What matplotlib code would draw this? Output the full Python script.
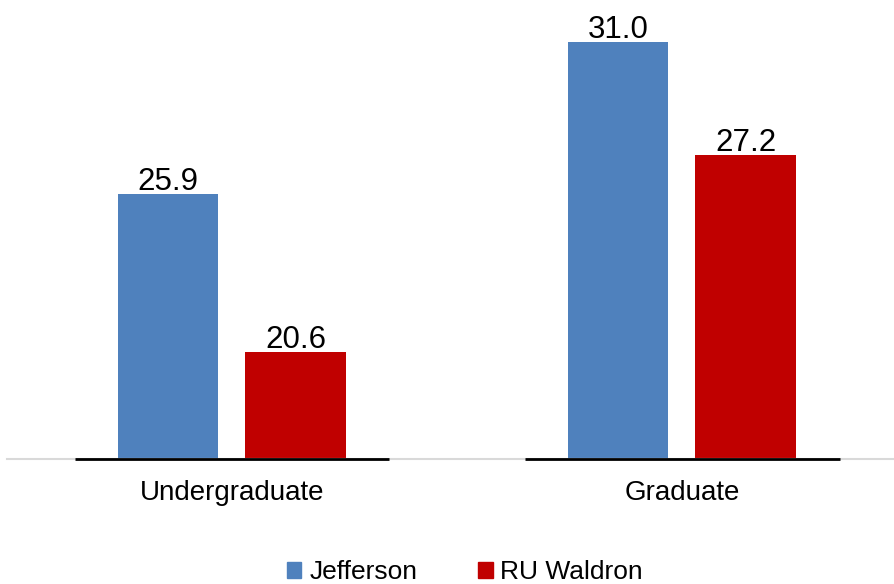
import matplotlib.pyplot as plt
from matplotlib.patches import Patch

plt.rcParams['font.family'] = ['Liberation Sans', 'DejaVu Sans']

# data
categories = ["Undergraduate", "Graduate"]
series_names = ["Jefferson", "RU Waldron"]
jefferson = [25.9, 31.0]
waldron = [20.6, 27.2]
colors = ["#4F81BD", "#C00000"]

fig = plt.figure(figsize=(8.95, 5.84), dpi=100)
ax = fig.add_axes([7 / 895, 0.214, 900 / 895, 0.786])

x = list(range(len(categories)))
bar_w = 0.224
offset = 0.142

for vals, sign, col in [(jefferson, -1, colors[0]), (waldron, 1, colors[1])]:
    pos = [xi + sign * offset for xi in x]
    ax.bar(pos, [v - 17 for v in vals], bottom=17, width=bar_w, color=col, zorder=2)
    for p, v in zip(pos, vals):
        ax.annotate(f"{v:.1f}", (p, v), xytext=(0, 4), textcoords="offset pixels",
                    ha="center", va="baseline", fontsize=22.5)

# short black baselines under each group
for xi in x:
    ax.hlines(17, xi - 0.35, xi + 0.35, color="black", linewidth=2, zorder=3, clip_on=False)

ax.set_xlim(-0.5, 1.5)
ax.set_ylim(17, 32.4)
ax.set_yticks([])
ax.set_xticks(x)
ax.set_xticklabels(categories, fontsize=20)
ax.tick_params(axis="x", length=0, pad=15)
for s in ["top", "right", "left"]:
    ax.spines[s].set_visible(False)
ax.spines["bottom"].set_color("#D9D9D9")
ax.spines["bottom"].set_linewidth(1.5)

handles = [Patch(color=c, label=n) for c, n in zip(colors, series_names)]
fig.legend(handles=handles, loc="center", bbox_to_anchor=(465 / 895, 1 - 572 / 584),
           ncol=2, frameon=False, fontsize=19, handlelength=0.55, handleheight=0.55,
           handletextpad=0.3, columnspacing=2.3)

fig.savefig("out.png", dpi=100)
plt.close(fig)
